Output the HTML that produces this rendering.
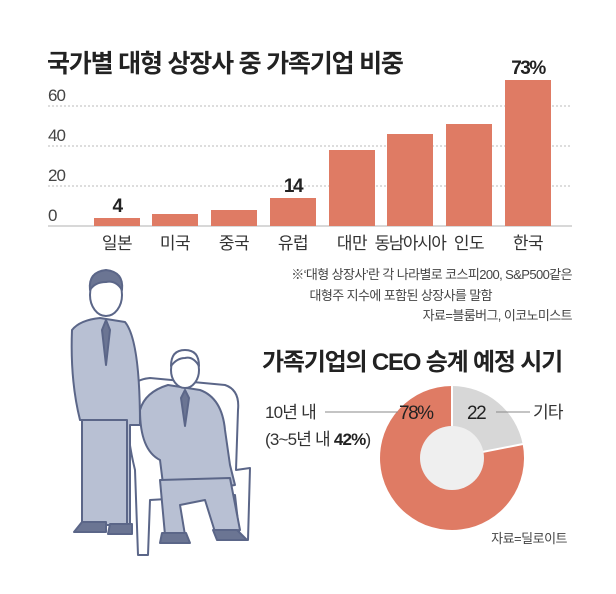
<!DOCTYPE html>
<html><head><meta charset="utf-8"><style>
body{margin:0;background:#fff;}
svg text{font-family:"Liberation Sans","Noto Sans CJK KR",sans-serif;}
</style></head><body>
<svg width="616" height="589" viewBox="0 0 616 589" xmlns="http://www.w3.org/2000/svg">
<rect width="616" height="589" fill="#fff"/>
<text x="47" y="72" font-size="25" font-weight="bold" fill="#222" letter-spacing="-1.2">국가별 대형 상장사 중 가족기업 비중</text>
<g stroke="#bbb" stroke-dasharray="2,2" stroke-width="1">
<line x1="48" y1="106" x2="572" y2="106"/><line x1="48" y1="146" x2="572" y2="146"/><line x1="48" y1="186" x2="572" y2="186"/>
</g>
<line x1="48" y1="226" x2="572" y2="226" stroke="#ccc" stroke-width="1.5"/>
<g font-size="17" fill="#444" letter-spacing="-1">
<text x="48" y="101">60</text><text x="48" y="141">40</text><text x="48" y="181">20</text><text x="48" y="221">0</text>
</g>
<g fill="#df7b64">
<rect x="94" y="218" width="46" height="8"/><rect x="152" y="214" width="46" height="12"/>
<rect x="211" y="210" width="46" height="16"/><rect x="270" y="198" width="46" height="28"/>
<rect x="329" y="150" width="46" height="76"/><rect x="387" y="134" width="46" height="92"/>
<rect x="446" y="124" width="46" height="102"/><rect x="505" y="80" width="46" height="146"/>
</g>
<g font-size="19" fill="#222" text-anchor="middle" letter-spacing="-1.5" font-weight="bold">
<text x="117" y="212">4</text><text x="293" y="192">14</text><text x="528" y="74">73%</text>
</g>
<g font-size="17" fill="#333" text-anchor="middle" letter-spacing="-0.5">
<text x="117" y="249">일본</text><text x="175" y="249">미국</text><text x="234" y="249">중국</text><text x="293" y="249">유럽</text>
<text x="352" y="249">대만</text><text x="410" y="249" letter-spacing="-1.5">동남아시아</text><text x="469" y="249">인도</text><text x="528" y="249">한국</text>
</g>
<g font-size="13" fill="#444" text-anchor="end" letter-spacing="-0.6">
<text x="572" y="279">※‘대형 상장사’란 각 나라별로 코스피200, S&amp;P500같은</text>
<text x="492" y="300">대형주 지수에 포함된 상장사를 말함</text>
<text x="572" y="320">자료=블룸버그, 이코노미스트</text>
</g>
<!-- illustration -->
<g stroke="#5b6688" stroke-width="2" stroke-linejoin="round">
<path d="M128 395 Q130 380 150 378 L225 385 Q240 390 238 410 L236 470 L250 468 L248 540 L240 540 L235 495 L150 500 L148 555 L138 555 L135 470 Q125 430 128 395Z" fill="#fff"/>
<path d="M72 330 Q80 320 100 318 L125 322 Q140 340 140 425 L130 425 L130 525 L110 525 L106 420 L80 420 Q70 380 72 330Z" fill="#b8c0d3"/>
<rect x="82" y="420" width="45" height="105" fill="#b8c0d3"/>
<path d="M82 522 h24 v10 h-32 Z M110 524 h22 v10 h-24 Z" fill="#6b7593"/>
<ellipse cx="106" cy="295" rx="16" ry="21" fill="#fff"/>
<path d="M90 290 Q88 272 106 270 Q124 272 122 290 Q116 280 106 282 Q95 282 90 290Z" fill="#6b7593"/>
<path d="M106 320 l-4 10 4 35 4 -35Z" fill="#6b7593"/>
<path d="M140 410 Q145 392 168 385 L200 390 Q222 398 225 430 L230 465 L235 485 L205 490 L200 500 L165 500 L160 460 Q140 450 140 410Z" fill="#b8c0d3"/>
<path d="M160 480 L230 478 L240 530 L215 532 L205 500 L180 505 L185 535 L165 535 Z" fill="#b8c0d3"/>
<ellipse cx="185" cy="370" rx="14" ry="18" fill="#fff"/>
<path d="M171 366 Q171 350 185 350 Q199 350 199 366 Q193 356 185 358 Q177 358 171 366Z" fill="#fff"/>
<path d="M185 390 l-4 8 4 28 4 -28Z" fill="#6b7593"/>
<path d="M162 533 h24 l4 10 h-30 Z M213 530 h24 l10 10 h-30 Z" fill="#6b7593"/>
</g>
<!-- donut section -->
<text x="262" y="370" font-size="24" font-weight="bold" fill="#222" letter-spacing="-1.2">가족기업의 CEO 승계 예정 시기</text>
<path d="M452 386 A72 72 0 0 1 522.7 444.3 L452 458 Z" fill="#d7d7d7"/>
<path d="M522.7 444.3 A72 72 0 1 1 452 386 L452 458 Z" fill="#df7b64"/>
<line x1="452" y1="386" x2="452" y2="458" stroke="#fff" stroke-width="2"/>
<line x1="452" y1="458" x2="523" y2="444" stroke="#fff" stroke-width="2"/>
<circle cx="452" cy="458" r="32" fill="#efefef"/>
<line x1="325" y1="412" x2="398" y2="412" stroke="#888" stroke-width="1"/>
<line x1="496" y1="412" x2="530" y2="412" stroke="#888" stroke-width="1"/>
<g font-size="17" fill="#333" letter-spacing="-0.8">
<text x="265" y="418">10년 내</text>
<text x="265" y="445">(3~5년 내 <tspan font-weight="bold" fill="#222">42%</tspan>)</text>
<text x="533" y="418">기타</text>
</g>
<g font-size="19" fill="#222" letter-spacing="-1.5">
<text x="399" y="419">78%</text><text x="467" y="419">22</text>
</g>
<text x="567" y="543" font-size="13" fill="#444" text-anchor="end" letter-spacing="-0.5">자료=딜로이트</text>
</svg>
</body></html>
